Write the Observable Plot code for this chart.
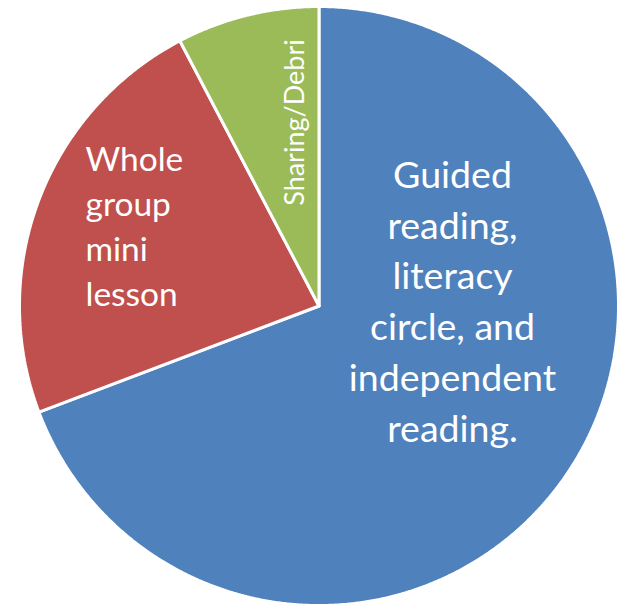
<!DOCTYPE html>
<html>
<head>
<meta charset="utf-8">
<script src="https://cdn.jsdelivr.net/npm/d3@7"></script>
<script src="https://cdn.jsdelivr.net/npm/@observablehq/plot@0.6"></script>
<style>
  html, body { margin: 0; padding: 0; background: #fff; }
  #chart svg { display: block; }
</style>
</head>
<body>
<div id="chart"></div>
<script>
// ---- data ----
const categories = [
  "Guided reading, literacy circle, and independent reading.",
  "Whole group mini lesson",
  "Sharing/Debri"
];
const values = [45, 15, 5];
const colors = ["#4F81BD", "#C0504D", "#9BBB59"];
const labelLines = [
  "Guided\nreading,\nliteracy\ncircle, and\nindependent\nreading.",
  "Whole\ngroup\nmini\nlesson",
  "Sharing/Debri"
];

// ---- layout ----
const W = 621, H = 607;
const CX = 318.5, CY = 305.5, R = 299.5; // pixel centre & radius of unit circle
const toX = px => (px - CX) / R;
const toY = py => (CY - py) / R;

const labelLayout = [
  {px: 452, py: 298, size: 37.5, lh: 50.8, anchor: "middle", rotate: 0},
  {px: 85,  py: 224, size: 33.5, lh: 45,   anchor: "start",  rotate: 0},
  {px: 294, py: 122, size: 27,   lh: 30,   anchor: "middle", rotate: -90}
];

// ---- build slices ----
const arcs = d3.pie().sort(null).value(d => d.value)(
  categories.map((c, i) => ({category: c, value: values[i], color: colors[i]}))
);
const polyPts = [];
arcs.forEach((a, i) => {
  const n = Math.max(8, Math.ceil((a.endAngle - a.startAngle) / 0.005));
  polyPts.push({slice: i, color: a.data.color, x: 0, y: 0});
  for (let k = 0; k <= n; k++) {
    const t = a.startAngle + (a.endAngle - a.startAngle) * k / n;
    polyPts.push({slice: i, color: a.data.color, x: Math.sin(t), y: Math.cos(t)});
  }
  polyPts.push({slice: i, color: a.data.color, x: 0, y: 0});
});

const labels = arcs.map((a, i) => ({
  text: labelLines[i],
  x: toX(labelLayout[i].px),
  y: toY(labelLayout[i].py),
  ...labelLayout[i]
}));

const plot = Plot.plot({
  width: W,
  height: H,
  margin: 0,
  style: {background: "#fff", fontFamily: "Lato, sans-serif"},
  x: {domain: [toX(0), toX(W)], axis: null},
  y: {domain: [toY(H), toY(0)], axis: null},
  color: {type: "identity"},
  marks: [
    Plot.line(polyPts, {
      x: "x", y: "y", z: "slice",
      fill: "color", stroke: "#fff", strokeWidth: 3,
      strokeLinejoin: "miter", curve: "linear"
    }),
    ...labels.map(l => Plot.text([l], {
      x: "x", y: "y", text: "text",
      fill: "#fff",
      fontSize: l.size,
      lineHeight: l.lh / l.size,
      textAnchor: l.anchor,
      lineAnchor: "middle",
      rotate: l.rotate,
      fontFamily: "Lato, sans-serif"
    }))
  ]
});
document.getElementById("chart").appendChild(plot);
</script>
</body>
</html>
